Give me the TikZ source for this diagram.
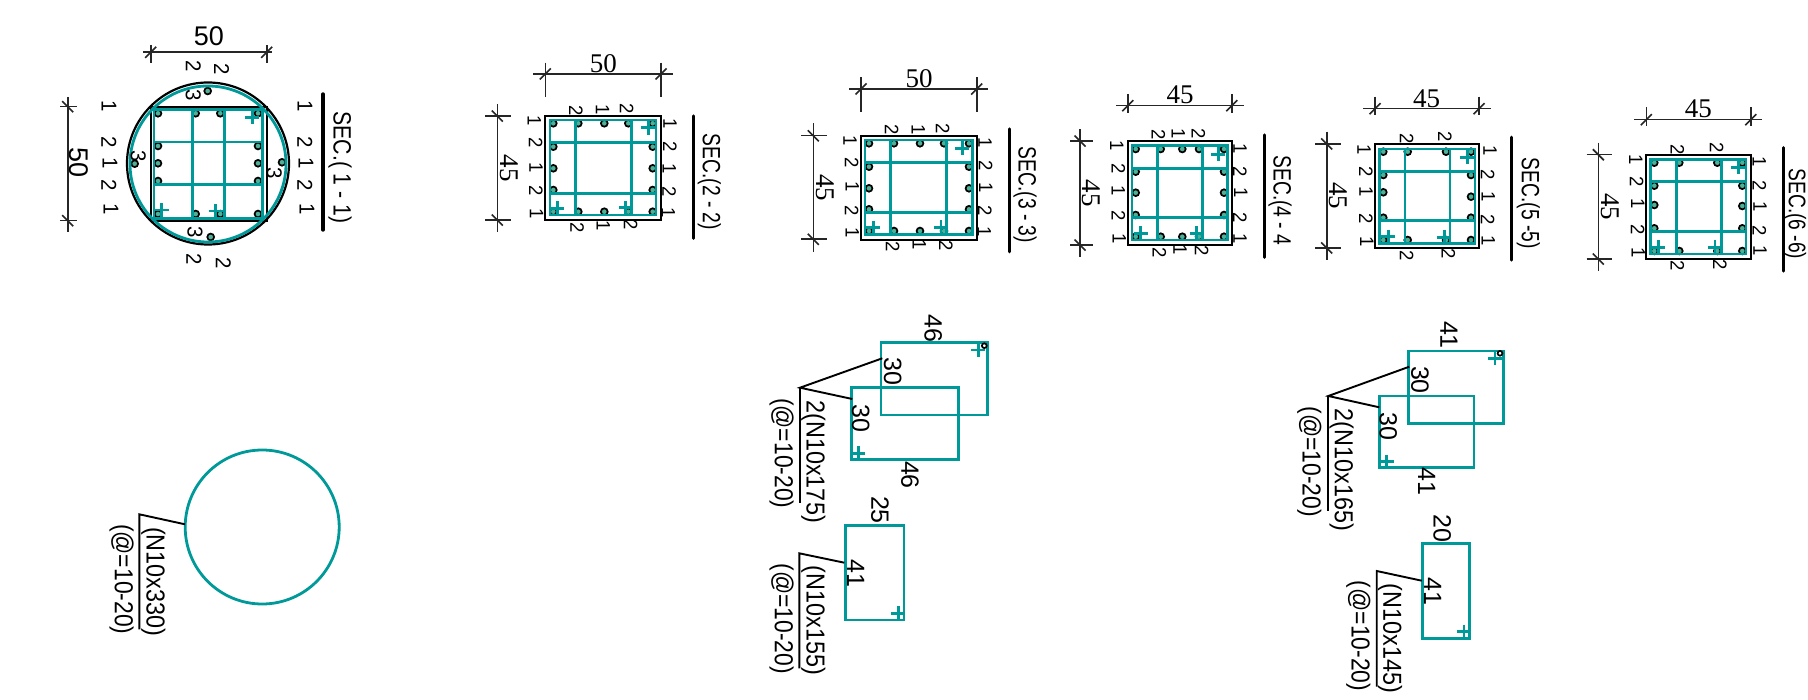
\documentclass[tikz,border=0pt]{standalone}
\usepackage{graphicx}
\usepackage{fontspec}
\setmainfont{Liberation Sans}
\newfontfamily\tms{Liberation Serif}
\definecolor{stir}{RGB}{0,153,153}
\definecolor{barfill}{RGB}{80,175,150}
\newcounter{lab}
\tikzset{
  rt/.style={rotate=-90,inner sep=0pt,text=black},
  up/.style={inner sep=0pt,text=black},
  stirrup/.style={draw=stir,line width=2.8pt},
  crossbar/.style={draw=stir,line width=2.7pt},
  outline/.style={draw=black,line width=2.2pt},
  dimline/.style={draw=black!85,line width=1.6pt},
  leader/.style={draw=black,line width=1.9pt},
  cutline/.style={draw=black,line width=3.4pt,line cap=round},
  rebar/.style={draw=black,fill=barfill,line width=1.7pt}
}
\newcommand{\rtxt}[5]{\stepcounter{lab}\node[rt] (n\arabic{lab}) at (#1,#2) {\scalebox{#4}[1]{\fontsize{#3}{#3}\selectfont #5}};}
\newcommand{\rtms}[4]{\stepcounter{lab}\node[rt] (n\arabic{lab}) at (#1,#2) {\fontsize{#3}{#3}\selectfont\tms #4};}
\newcommand{\utms}[4]{\stepcounter{lab}\node[up] (n\arabic{lab}) at (#1,#2) {\fontsize{#3}{#3}\selectfont\tms #4};}
\newcommand{\hdimn}[7]{
  \draw[dimline] (#1,#5) -- (#2,#5);
  \draw[dimline] (#3,#6) -- (#3,#7);
  \draw[dimline] (#4,#6) -- (#4,#7);
  \draw[dimline] (#3-5.5,#5+5.5) -- (#3+5.5,#5-5.5);
  \draw[dimline] (#4-5.5,#5+5.5) -- (#4+5.5,#5-5.5);
}
\newcommand{\vdimn}[7]{
  \draw[dimline] (#5,#1) -- (#5,#2);
  \draw[dimline] (#6,#3) -- (#7,#3);
  \draw[dimline] (#6,#4) -- (#7,#4);
  \draw[dimline] (#5-5.5,#3-5.5) -- (#5+5.5,#3+5.5);
  \draw[dimline] (#5-5.5,#4-5.5) -- (#5+5.5,#4+5.5);
}
\newcommand{\barsrow}[2]{\foreach \bx in {#2} \draw[rebar] (\bx,#1) circle[radius=3.4];}
\newcommand{\barscol}[2]{\foreach \by in {#2} \draw[rebar] (#1,\by) circle[radius=3.4];}
\newcommand{\grid}[8]{
  \draw[stirrup] (#1,#2) rectangle (#3,#4);
  \draw[crossbar] (#5,#2) -- (#5,#4);
  \draw[crossbar] (#6,#2) -- (#6,#4);
  \draw[crossbar] (#1,#7) -- (#3,#7);
  \draw[crossbar] (#1,#8) -- (#3,#8);
}
\newcommand{\plusm}[2]{\draw[crossbar] (#1-7,#2) -- (#1+7,#2);\draw[crossbar] (#1,#2-7) -- (#1,#2+7);}
\newcommand{\smallnums}[1]{\foreach \a/\b/\c in {#1} {\rtxt{\a}{\b}{19.5}{0.95}{\c}}}
\begin{document}
\begin{tikzpicture}[x=1pt,y=-1pt]
\fill[white] (0,0) rectangle (1808,700);
\useasboundingbox (0,0) rectangle (1808,700);

%% SECTION 1
\draw[outline] (208,163.5) circle[radius=81];
\draw[outline] (150.7,106.7) rectangle (266.7,220.7);
\barsrow{113.3}{158,195.7,220.3,258}
\barsrow{214}{158,195.7,220.3,258}
\barscol{158}{146,163.3,181}
\barscol{258}{146,163.3,181}
\draw[rebar] (207.7,91) circle[radius=3.4];
\draw[rebar] (134.7,163.7) circle[radius=3.4];
\draw[rebar] (282,162.3) circle[radius=3.4];
\draw[rebar] (210.7,237) circle[radius=3.4];
\draw[stirrup] (208,164) circle[radius=78];
\grid{154}{109.3}{262.7}{218.3}{192.7}{224.3}{142}{184.7}
\plusm{252.3}{117.3}\plusm{161.7}{210}\plusm{215.7}{211}
\foreach \a/\b/\c in {193.3/95/3,138.3/155.7/3,274.3/172.7/3,195/231.7/3,193.3/65.7/2,221.7/69.3/2,194/259.3/2,223.3/262.7/2,
  109/105.7/1,109/141.7/2,110/163/1,109/185/2,111/209.3/1,305/105.7/1,305/141.7/2,306/163/1,305/185/2,307/209.3/1} {\rtxt{\a}{\b}{21.5}{0.95}{\c}}
\hdimn{143}{272}{150.7}{266.7}{52.3}{45}{62.7}
\vdimn{97}{232}{106.7}{220.7}{67.7}{60}{77}
\stepcounter{lab}\node[up] (n\arabic{lab}) at (209,36.7) {\fontsize{27}{27}\selectfont 50};
\rtxt{78.3}{163}{27}{1}{50}
\draw[cutline] (323,94) -- (323,230);
\rtxt{340}{167.5}{25}{0.85}{SEC.( 1 - 1)}

%% SECTION 2
\draw[outline] (545.3,116) rectangle (661,220);
\barsrow{123.3}{553.3,578.3,604.3,628.3,652.7}
\barsrow{211.7}{553.3,578.3,604.3,628.3,652.7}
\barscol{553.3}{146.7,168.3,190}
\barscol{652.7}{146.7,168.3,190}
\grid{550}{120}{656}{215}{575.3}{631.3}{142.7}{193.3}
\plusm{648.3}{127.7}\plusm{557.3}{208.3}\plusm{625.7}{207.7}
\smallnums{576/110.7/2,602.7/109.3/1,626.7/108.3/2,577.3/227.7/2,603.3/226/1,630.7/225/2,
  534.3/121/1,535.7/142.7/2,536/167.3/1,536/191/2,536.7/213.3/1,670/123.3/1,670/146.7/2,669.3/168.3/1,669.3/191.7/2,668.3/212.3/1}
\hdimn{533.3}{672.7}{545.3}{661}{74}{62.7}{97.3}
\vdimn{104}{231.7}{116}{220}{497.3}{485}{510.7}
\utms{603.3}{63.3}{27}{50}
\rtms{509.3}{168.3}{27}{45}
\draw[cutline] (693.3,116) -- (693.3,238.3);
\rtxt{709.3}{182}{25}{0.77}{SEC.(2 - 2)}

%% SECTION 3
\draw[outline] (861,135.7) rectangle (976.7,240);
\barsrow{143.3}{869,894,920,944,969}
\barsrow{231}{869,894,920,944,969}
\barscol{869}{166.7,188.3,209.3}
\barscol{969}{166.7,188.3,209.3}
\grid{865}{140}{972.3}{234.3}{890.7}{946.7}{162.7}{212.3}
\plusm{962.3}{148.3}\plusm{873.3}{227.7}\plusm{941}{227.3}
\smallnums{891.7/130/2,918.3/129.3/1,942.7/128.3/2,892.7/246.7/2,919.3/245/1,946/245.7/2,
  850/140.7/1,851.7/162.7/2,852.3/186.7/1,851.7/211/2,852.3/232.7/1,985/142.3/1,985.7/166/2,985.7/187.7/1,985/211/2,984.3/231.7/1}
\hdimn{849.3}{988.3}{861}{976.7}{89}{77.3}{112.3}
\vdimn{123.3}{251.7}{135.7}{239.3}{813.3}{801}{826.7}
\utms{919}{78.3}{27}{50}
\rtms{825}{187.7}{27}{45}
\draw[cutline] (1009.7,129) -- (1009.7,251.7);
\rtxt{1025}{195}{25}{0.77}{SEC.(3 - 3)}

%% SECTION 4
\draw[outline] (1128.3,141) rectangle (1231.7,245);
\barsrow{149}{1135.7,1160.7,1182.3,1199,1224}
\barsrow{236.7}{1135.7,1160.7,1182.3,1199,1224}
\barscol{1135.7}{171.7,192.7,215}
\barscol{1224}{171.7,192.7,215}
\grid{1132}{145.7}{1227.3}{240}{1157.7}{1202.7}{168.3}{217.7}
\plusm{1218.3}{154.3}\plusm{1140.7}{233.3}\plusm{1196.7}{233.3}
\smallnums{1158.3/135/2,1178.3/134/1,1198.3/133.3/2,1159.3/252.3/2,1180/250/1,1201.7/251/2,
  1116.7/146/1,1118.3/168.3/2,1118.3/191/1,1118.3/215.7/2,1119.3/238.3/1,1240/148.3/1,1240/171.7/2,1240.7/192.3/1,1240/217.3/2,1240/238.3/1}
\hdimn{1116}{1244}{1127.7}{1231.7}{105.7}{94}{112.7}
\vdimn{129.3}{257.3}{141}{245}{1080}{1070}{1093.3}
\utms{1180}{95}{27}{45}
\rtms{1091.7}{193.3}{27}{45}
\draw[cutline] (1264.7,135) -- (1264.7,257.3);
\rtxt{1280}{200.5}{25}{0.77}{SEC.(4 - 4}

%% SECTION 5
\draw[outline] (1375,144) rectangle (1479,248.3);
\barsrow{151.7}{1383.3,1407.7,1446,1471}
\barsrow{240}{1383.3,1407.7,1446,1471}
\barscol{1383.3}{175,192.3,217.7}
\barscol{1471}{175,196.7,217.7}
\grid{1379.3}{149}{1475}{243.3}{1405}{1450}{171.7}{220.7}
\plusm{1467.3}{157.3}\plusm{1388.3}{236.7}\plusm{1444.3}{237.3}
\smallnums{1406.7/138.3/2,1445/136.7/2,1406.7/256/2,1448.3/254/2,
  1364/149.3/1,1366/171.7/2,1366/191.7/1,1366/219/2,1366.7/241.7/1,1490/151/1,1487.7/175/2,1488.3/196.7/1,1487.7/220/2,1488.3/240.7/1}
\hdimn{1363.3}{1491}{1375}{1479}{108.7}{96.7}{115}
\vdimn{131.7}{260}{144}{248}{1326.7}{1315}{1340.7}
\utms{1426.7}{98.3}{27}{45}
\rtms{1338.3}{196}{27}{45}
\draw[cutline] (1511.7,137.3) -- (1511.7,260);
\rtxt{1528.3}{203.3}{25}{0.77}{SEC.(5 -5)}

%% SECTION 6
\draw[outline] (1646,154.7) rectangle (1750.7,259);
\barsrow{162.7}{1654.3,1679.3,1717.3,1742.3}
\barsrow{251}{1654.3,1679.3,1717.3,1742.3}
\barscol{1654.3}{185.7,205,228.3}
\barscol{1742.3}{185.7,206,228.3}
\grid{1650.7}{159.3}{1746}{254}{1676.7}{1721.7}{181.7}{231.7}
\plusm{1738.3}{167.3}\plusm{1658.3}{247.3}\plusm{1715}{247.3}
\smallnums{1677.3/149.3/2,1716.7/147.3/2,1677.3/265.7/2,1720/264.3/2,
  1635.7/159.3/1,1636.7/181.7/2,1637.7/204/1,1637.7/230/2,1638.3/252.3/1,1759.3/161.7/1,1759.3/185.7/2,1760/206.7/1,1759.3/230.7/2,1760/251/1}
\hdimn{1634.3}{1762.3}{1646.3}{1750.7}{119.7}{107.3}{126}
\vdimn{142.7}{271}{154.7}{259}{1598.3}{1586.7}{1611.7}
\utms{1698.3}{109}{27}{45}
\rtms{1610}{206.7}{27}{45}
\draw[cutline] (1783.3,147.7) -- (1783.3,271);
\rtxt{1795}{214}{24}{0.8}{SEC.(6 -6)}

%% STIRRUP DETAILS
\draw[stirrup] (262.2,527) circle[radius=77];
\coordinate (a0) at (139.3,514.3);
\coordinate (a1) at (185,524.3);
\coordinate (a2) at (139.3,629.3);
\draw[leader] (a1) -- (a0) -- (a2);
\rtxt{153.3}{581.7}{26}{0.9}{(N10x330)}
\rtxt{121.7}{579.3}{26}{0.88}{(@=10-20)}

\draw[stirrup] (881,342.7) rectangle (987.7,415);
\draw[stirrup] (851.7,387.7) rectangle (958.7,459.3);
\plusm{978.3}{350}\plusm{858.3}{453.3}
\draw[rebar,fill=none] (984.3,345.7) circle[radius=2.4];
\coordinate (b0) at (800,387.7);
\coordinate (b1) at (882.3,358.3);
\coordinate (b2) at (852.3,399);
\coordinate (b3) at (800,502.7);
\draw[leader] (b1) -- (b0) -- (b2);
\draw[leader] (b0) -- (b3);
\rtxt{813.3}{461.7}{26}{0.9}{2(N10x175)}
\rtxt{781.7}{453.3}{26}{0.88}{(@=10-20)}
\rtxt{933.3}{328.3}{25}{1}{46}
\rtxt{892.7}{371.7}{25}{1}{30}
\rtxt{860.7}{418.3}{25}{1}{30}
\rtxt{910}{475}{25}{1}{46}

\draw[stirrup] (845.7,525.7) rectangle (904,620);
\plusm{898.3}{613.3}
\coordinate (c0) at (799.3,553.3);
\coordinate (c1) at (844.3,562.7);
\coordinate (c2) at (799.3,668.3);
\draw[leader] (c1) -- (c0) -- (c2);
\rtxt{813.3}{620.3}{26}{0.9}{(N10x155)}
\rtxt{781.7}{618.7}{26}{0.88}{(@=10-20)}
\rtxt{880}{510}{25}{1}{25}
\rtxt{855.7}{573.3}{25}{1}{41}

\draw[stirrup] (1408.3,351) rectangle (1503.3,423.3);
\draw[stirrup] (1379.3,396) rectangle (1474,467.7);
\plusm{1495}{358.3}\plusm{1386.7}{461.7}
\draw[rebar,fill=none] (1500,353.3) circle[radius=2.4];
\coordinate (d0) at (1328.3,396);
\coordinate (d1) at (1409.3,366.7);
\coordinate (d2) at (1379.3,407.3);
\coordinate (d3) at (1328.3,510.7);
\draw[leader] (d1) -- (d0) -- (d2);
\draw[leader] (d0) -- (d3);
\rtxt{1341.7}{470}{26}{0.9}{2(N10x165)}
\rtxt{1309.3}{461.7}{26}{0.88}{(@=10-20)}
\rtxt{1449}{335}{25}{1}{41}
\rtxt{1420}{380}{25}{1}{30}
\rtxt{1388.3}{426.7}{25}{1}{30}
\rtxt{1426.7}{481.7}{25}{1}{41}

\draw[stirrup] (1422.3,543.3) rectangle (1469.3,638.3);
\plusm{1464}{631.7}
\coordinate (e0) at (1376.7,571);
\coordinate (e1) at (1421.7,580.7);
\coordinate (e2) at (1376.7,686.7);
\draw[leader] (e1) -- (e0) -- (e2);
\rtxt{1390}{638.3}{26}{0.9}{(N10x145)}
\rtxt{1358.3}{636}{26}{0.88}{(@=10-20)}
\rtxt{1442.3}{528.3}{25}{1}{20}
\rtxt{1432.7}{591.7}{25}{1}{41}
\end{tikzpicture}
\end{document}
